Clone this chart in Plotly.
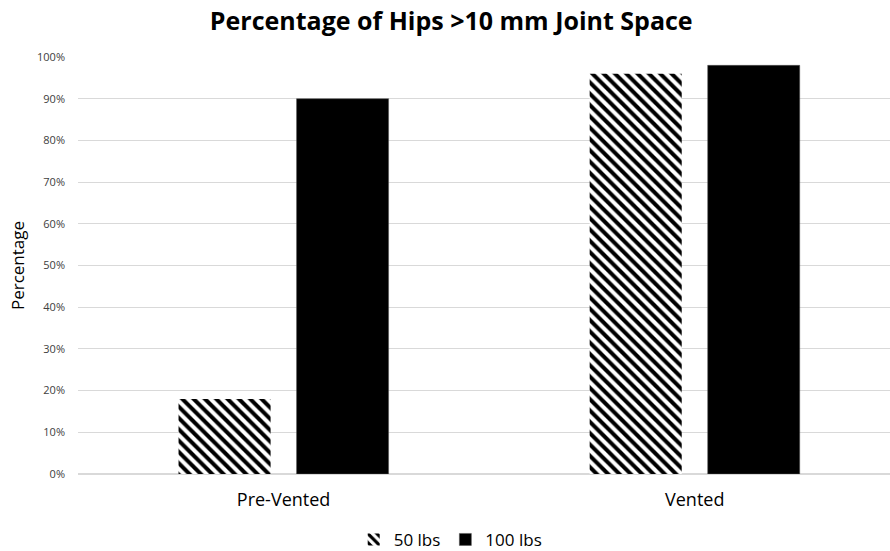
import plotly.graph_objects as go

categories = ["Pre-Vented", "Vented"]
series_names = ["50 lbs", "100 lbs"]
values_50 = [0.18, 0.96]
values_100 = [0.90, 0.98]
y_ticks = [i / 10 for i in range(11)]

fig = go.Figure()
fig.add_trace(go.Bar(
    x=categories, y=values_50, name=series_names[0],
    marker=dict(color="white", line=dict(width=0),
                pattern=dict(shape="\\", fgcolor="black", bgcolor="white", fgopacity=1,
                             size=8, solidity=0.5, fillmode="replace")),
))
fig.add_trace(go.Bar(
    x=categories, y=values_100, name=series_names[1],
    marker=dict(color="black", line=dict(width=0.5, color="#555555")),
))

fig.update_layout(
    width=890, height=551,
    margin=dict(l=78, r=0, t=57, b=77, autoexpand=False),
    paper_bgcolor="white", plot_bgcolor="white",
    title=dict(text="<b>Percentage of Hips >10 mm Joint Space</b>", x=0.507, xanchor="center",
               y=0.962, yanchor="middle",
               font=dict(family="Open Sans", size=25, color="black")),
    barmode="group", bargap=0.426, bargroupgap=0.22,
    font=dict(family="Open Sans", color="#404040"),
    showlegend=True,
    legend=dict(orientation="h", x=0.459, xanchor="center", y=-0.158, yanchor="middle",
                font=dict(size=17, color="black"), traceorder="normal"),
    xaxis=dict(range=[-0.5, 1.475], showgrid=False, showline=False, ticks="",
               ticklabelstandoff=13, automargin=False,
               tickfont=dict(size=18, color="black")),
    yaxis=dict(range=[0, 1], tickvals=y_ticks, tickformat=".0%", showgrid=True,
               gridcolor="#d9d9d9", gridwidth=1, zeroline=True, zerolinecolor="#d9d9d9",
               tickfont=dict(size=11, color="#404040"), ticks="", ticklen=0,
               ticklabelstandoff=12, automargin=False,
               title=dict(text="Percentage", font=dict(size=17, color="black"), standoff=8)),
)

fig.write_html("out.html", post_script="document.body.style.margin='0';",
               config={"displayModeBar": False})
